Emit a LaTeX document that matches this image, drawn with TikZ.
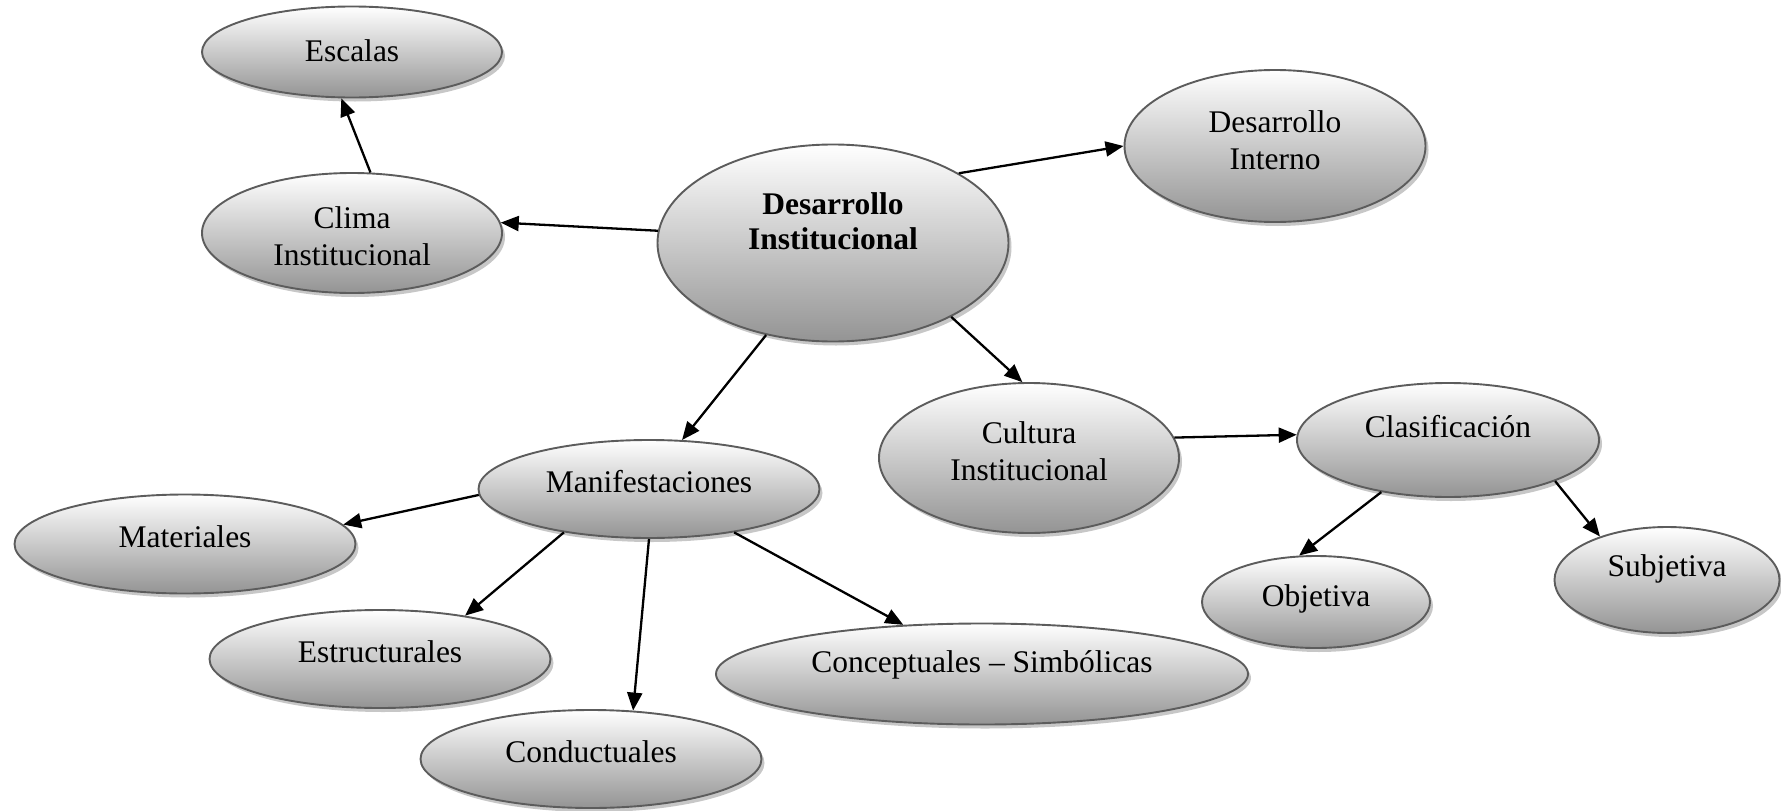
\documentclass[tikz,border=0pt]{standalone}
\usepackage{fontspec}
\setmainfont{Liberation Serif}
\usetikzlibrary{arrows.meta,shadows,shapes.geometric}
\tikzset{
  blob/.style={ellipse, draw=black!64, line width=1.9pt, inner sep=0pt,
    top color=white, bottom color=black!42,
    drop shadow={shadow xshift=3pt,shadow yshift=-4pt,fill=black!22,opacity=1}},
  txt/.style={font=\fontsize{31.5}{36.5}\selectfont, align=center},
  link/.style={line width=2.3pt, -{Triangle[length=18pt,width=15pt]}}
}
\begin{document}
\begin{tikzpicture}[x=1pt,y=-1pt]
\useasboundingbox (0,0) rectangle (1781,811);
% centre
\node[blob, minimum width=351pt, minimum height=197pt,
  label={[txt,yshift=22pt,font=\fontsize{31.5}{35}\selectfont\bfseries]center:Desarrollo\\Institucional}] (di) at (833,243) {};
% ramas
\node[blob, minimum width=300pt, minimum height=91pt, label={[txt,yshift=1pt]center:Escalas}] (escalas) at (352,52) {};
\node[blob, minimum width=300pt, minimum height=120pt, label={[txt,yshift=-3pt]center:Clima\\Institucional}] (clima) at (352,233) {};
\node[blob, minimum width=301pt, minimum height=152pt, label={[txt,yshift=6pt]center:Desarrollo\\Interno}] (interno) at (1275,146) {};
\node[blob, minimum width=300pt, minimum height=150pt, label={[txt,yshift=7pt]center:Cultura\\Institucional}] (cultura) at (1029,458) {};
\node[blob, minimum width=302pt, minimum height=114pt, label={[txt,yshift=13pt]center:Clasificación}] (clasif) at (1448,440) {};
\node[blob, minimum width=228pt, minimum height=92pt, label={[txt,yshift=3pt]center:Objetiva}] (objetiva) at (1316,602) {};
\node[blob, minimum width=225pt, minimum height=106pt, label={[txt,yshift=11pt]center:Subjetiva}] (subjetiva) at (1667,580) {};
% manifestaciones
\node[blob, minimum width=341pt, minimum height=98pt, label={[txt,yshift=7pt]center:Manifestaciones}] (manif) at (649,489) {};
\node[blob, minimum width=341pt, minimum height=99pt, label={[txt,yshift=7pt]center:Materiales}] (materiales) at (185,544) {};
\node[blob, minimum width=341pt, minimum height=98pt, label={[txt,yshift=7pt]center:Estructurales}] (estructurales) at (380,659) {};
\node[blob, minimum width=341pt, minimum height=98pt, label={[txt,yshift=7pt]center:Conductuales}] (conductuales) at (591,759) {};
\node[blob, minimum width=532pt, minimum height=101pt, label={[txt,yshift=9pt]center:Conceptuales – Simbólicas}] (conceptuales) at (982,674) {};
% flechas
\draw[link] (di.176) -- (clima.4);
\draw[link] (clima.73) -- (escalas.257);
\draw[link] (di.29) -- (interno.180);
\draw[link] (di.-32) -- (cultura.95);
\draw[link] (di.234) -- (manif.56);
\draw[link] (cultura.8) -- (clasif.178);
\draw[link] (clasif.218) -- (objetiva.110);
\draw[link] (clasif.-21) -- (subjetiva.147);
\draw[link] (manif.182) -- (materiales.7);
\draw[link] (manif.207) -- (estructurales.27);
\draw[link] (manif.270) -- (conductuales.49);
\draw[link] (manif.-27) -- (conceptuales.148);
\end{tikzpicture}
\end{document}
